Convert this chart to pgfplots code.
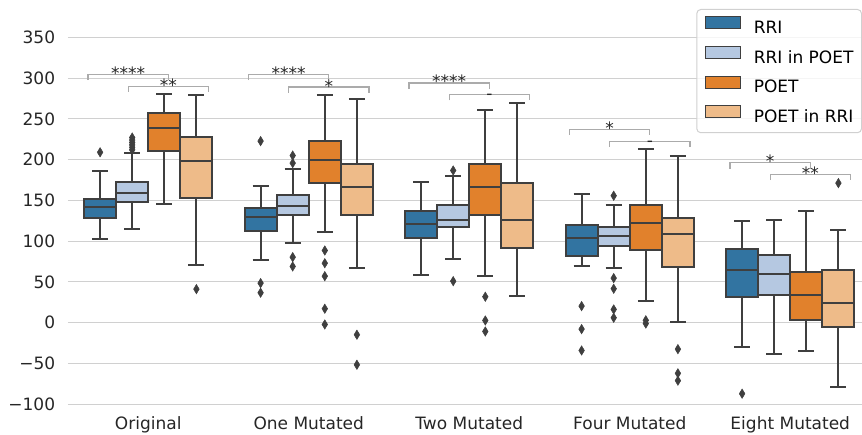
\documentclass[border=0pt]{standalone}
\usepackage{fontspec}
\setmainfont{DejaVu Sans}
\usepackage{pgfplots}
\pgfplotsset{compat=1.18}

\definecolor{cA}{HTML}{3274A1}
\definecolor{cB}{HTML}{B5C8E1}
\definecolor{cC}{HTML}{E1812C}
\definecolor{cD}{HTML}{EEBB89}
\definecolor{edge}{HTML}{3F3F3F}
\definecolor{gridc}{HTML}{D0D0D0}
\definecolor{txt}{HTML}{262626}
\definecolor{brkc}{HTML}{ABABAB}

% thin diamond, like matplotlib's 'd'
\pgfdeclareplotmark{tdiam}{%
  \pgfpathmoveto{\pgfqpoint{0pt}{\pgfplotmarksize}}%
  \pgfpathlineto{\pgfqpoint{0.6\pgfplotmarksize}{0pt}}%
  \pgfpathlineto{\pgfqpoint{0pt}{-\pgfplotmarksize}}%
  \pgfpathlineto{\pgfqpoint{-0.6\pgfplotmarksize}{0pt}}%
  \pgfpathclose\pgfusepathqfillstroke}

\pgfplotsset{
  boxline/.style={draw=edge, line width=2pt, line join=miter, forget plot},
  outl/.style={only marks, mark=tdiam, mark size=4.7pt,
    mark options={fill=edge, draw=edge, line width=0.5pt}, forget plot},
  bracket/.style={draw=brkc, line width=1.2pt, forget plot},
}
\tikzset{sig/.style={anchor=base, text=txt, yshift=-5pt}}

% one box: position, lower whisker, Q1, median, Q3, upper whisker, colour
\newcommand{\bxp}[7]{%
  \pgfmathsetmacro\xa{#1-0.1}\pgfmathsetmacro\xb{#1+0.1}%
  \pgfmathsetmacro\xc{#1-0.05}\pgfmathsetmacro\xd{#1+0.05}%
  \addplot[boxline] coordinates {(#1,#2) (#1,#3)};
  \addplot[boxline] coordinates {(#1,#5) (#1,#6)};
  \addplot[boxline] coordinates {(\xc,#2) (\xd,#2)};
  \addplot[boxline] coordinates {(\xc,#6) (\xd,#6)};
  \addplot[boxline, fill=#7] coordinates {(\xa,#3) (\xb,#3) (\xb,#5) (\xa,#5)} -- cycle;
  \addplot[boxline] coordinates {(\xa,#4) (\xb,#4)};
}

\begin{document}
\fontsize{17}{20}\selectfont
\begin{tikzpicture}
\begin{axis}[
  scale only axis, width=794pt, height=404.3pt,
  xmin=-0.5, xmax=4.447, ymin=-100, ymax=395.7,
  axis line style={draw=none}, tick style={draw=none},
  ymajorgrids, major grid style={gridc, line width=1pt},
  xtick={0,1,2,3,4},
  xticklabels={Original, One Mutated, Two Mutated, Four Mutated, Eight Mutated},
  ytick={-100,-50,0,50,100,150,200,250,300,350},
  yticklabels={−100,−50,0,50,100,150,200,250,300,350},
  ticklabel style={text=txt},
  yticklabel style={xshift=-7pt},
  xticklabel style={yshift=-6pt},
  legend image code/.code={\draw[#1, sharp corners, fill opacity=1] (0pt,0.3pt) rectangle (35pt,12.3pt);},
  legend cell align=left,
  legend style={at={(rel axis cs:1,1)}, anchor=north east, yshift=-9pt,
    draw=gridc, line width=1pt, rounded corners=4pt, fill=white,
    fill opacity=0.8, draw opacity=1, text opacity=1,
    inner xsep=8pt, inner ysep=6.5pt, row sep=9pt, column sep=13pt,
    nodes={inner sep=0pt, text height=12.5pt, text depth=3.5pt}},
]
\addlegendimage{fill=cA, draw=edge, line width=1pt}
\addlegendentry{RRI}
\addlegendimage{fill=cB, draw=edge, line width=1pt}
\addlegendentry{RRI in POET}
\addlegendimage{fill=cC, draw=edge, line width=1pt}
\addlegendentry{POET}
\addlegendimage{fill=cD, draw=edge, line width=1pt}
\addlegendentry{POET in RRI}

% Original
\bxp{-0.3}{103}{128.3}{141.7}{152}{185.5}{cA}
\bxp{-0.1}{114.8}{148.4}{158.5}{172.4}{208}{cB}
\bxp{0.1}{145.9}{210}{238.6}{256.6}{280}{cC}
\bxp{0.3}{70.3}{153.3}{197.8}{227.6}{279}{cD}
% One Mutated
\bxp{0.7}{76.4}{112}{129.1}{140.1}{168}{cA}
\bxp{0.9}{98.1}{132.4}{142.6}{156.9}{188.8}{cB}
\bxp{1.1}{111}{171.7}{199.8}{222.7}{279.5}{cC}
\bxp{1.3}{67.4}{131.9}{166.3}{194.1}{273.8}{cD}
% Two Mutated
\bxp{1.7}{58}{103.7}{121.4}{136.5}{172.9}{cA}
\bxp{1.9}{77.6}{116.8}{126.3}{143.8}{179.4}{cB}
\bxp{2.1}{57.6}{131.9}{166.7}{194.5}{260.7}{cC}
\bxp{2.3}{32.7}{91.1}{126.3}{171.7}{269.3}{cD}
% Four Mutated
\bxp{2.7}{69}{81.3}{103.7}{120.1}{157.7}{cA}
\bxp{2.9}{66.6}{93.9}{106.7}{117.2}{144.2}{cB}
\bxp{3.1}{27}{88.6}{122.1}{144.7}{212.5}{cC}
\bxp{3.3}{1.2}{68.2}{108.3}{128.7}{203.9}{cD}
% Eight Mutated
\bxp{3.7}{-30.3}{31.9}{64.1}{90.7}{124.2}{cA}
\bxp{3.9}{-38.9}{33.5}{59.2}{82.9}{126.3}{cB}
\bxp{4.1}{-34.8}{3.7}{33.9}{62}{137.3}{cC}
\bxp{4.3}{-79}{-5.8}{24}{64.1}{114}{cD}

% outliers
\addplot[outl] coordinates {
  (-0.3,209) (-0.1,212) (-0.1,215) (-0.1,218) (-0.1,221) (-0.1,224) (-0.1,227) (0.3,41.2)
  (0.7,222.7) (0.7,48.6) (0.7,36.8) (0.9,205) (0.9,195.7) (0.9,80.4) (0.9,69)
  (1.1,88.6) (1.1,73) (1.1,57.1) (1.1,17.2) (1.1,-2.1) (1.3,-14.7) (1.3,-51.5)
  (1.9,186.7) (1.9,51) (2.1,31.9) (2.1,2.8) (2.1,-10.7)
  (2.7,20.4) (2.7,-7.8) (2.7,-34) (2.9,155.7) (2.9,54.7) (2.9,41.7) (2.9,16.3) (2.9,6.1)
  (3.1,3) (3.1,-1) (3.3,-32.4) (3.3,-62) (3.3,-71)
  (3.7,-87) (4.3,171.2)
};

% significance brackets
\addplot[bracket] coordinates {(-0.375,297.5) (-0.375,304.5) (0.125,304.5) (0.125,297.5)};
\addplot[bracket] coordinates {(-0.125,283) (-0.125,290) (0.375,290) (0.375,283)};
\addplot[bracket] coordinates {(0.625,297.5) (0.625,304.5) (1.125,304.5) (1.125,297.5)};
\addplot[bracket] coordinates {(0.875,282) (0.875,289) (1.375,289) (1.375,282)};
\addplot[bracket] coordinates {(1.625,287) (1.625,294) (2.125,294) (2.125,287)};
\addplot[bracket] coordinates {(1.875,272.5) (1.875,279.5) (2.375,279.5) (2.375,272.5)};
\addplot[bracket] coordinates {(2.625,230) (2.625,237) (3.125,237) (3.125,230)};
\addplot[bracket] coordinates {(2.875,215.5) (2.875,222.5) (3.375,222.5) (3.375,215.5)};
\addplot[bracket] coordinates {(3.625,189) (3.625,196) (4.125,196) (4.125,189)};
\addplot[bracket] coordinates {(3.875,175) (3.875,182) (4.375,182) (4.375,175)};

\node[sig] at (axis cs:-0.125,304.5) {****};
\node[sig] at (axis cs:0.125,290) {**};
\node[sig] at (axis cs:0.875,304.5) {****};
\node[sig] at (axis cs:1.125,289) {*};
\node[sig] at (axis cs:1.875,294) {****};
\node[sig] at (axis cs:2.125,279.5) {-};
\node[sig] at (axis cs:2.875,237) {*};
\node[sig] at (axis cs:3.125,222.5) {-};
\node[sig] at (axis cs:3.875,196) {*};
\node[sig] at (axis cs:4.125,182) {**};
\end{axis}
\pgfresetboundingbox
\path[use as bounding box] (-68pt,-29.7pt) rectangle (794pt,404.3pt);
\end{tikzpicture}
\end{document}
